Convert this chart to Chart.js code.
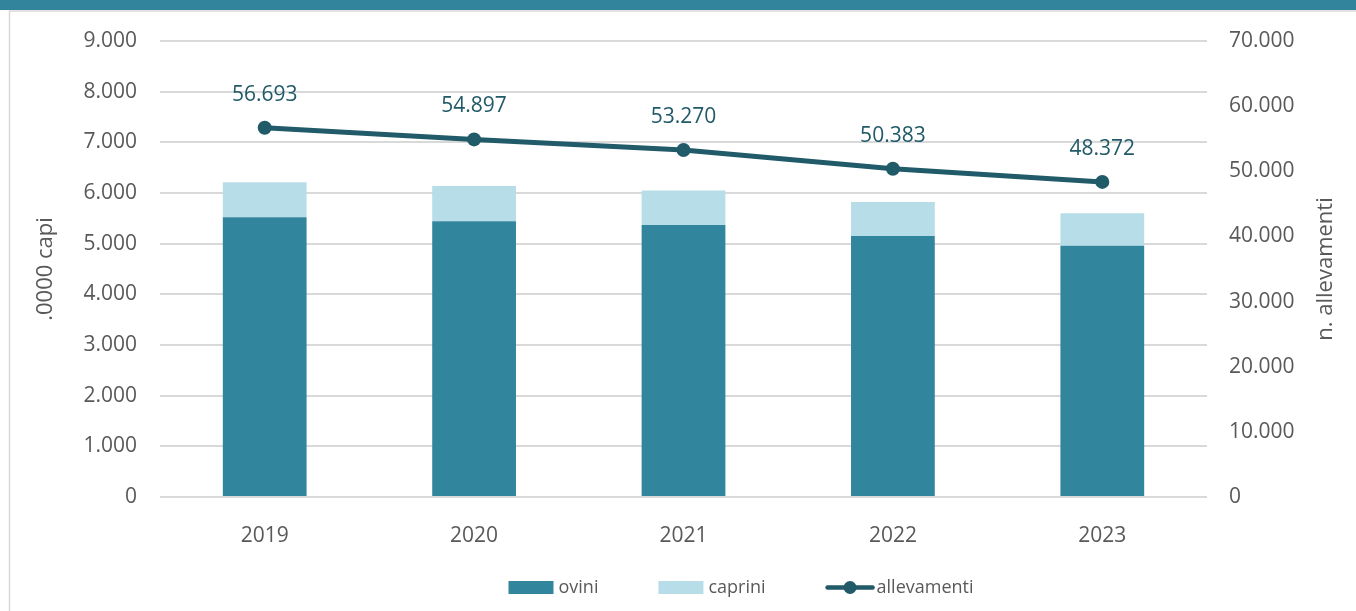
<!DOCTYPE html>
<html>
<head>
<meta charset="utf-8">
<script src="https://cdn.jsdelivr.net/npm/chart.js@4.4.1/dist/chart.umd.min.js"></script>
<style>
  html, body { margin: 0; padding: 0; background: #fff; }
  #wrap { position: relative; width: 1356px; height: 611px; }
</style>
</head>
<body>
<div id="wrap"><canvas id="chart"></canvas></div>
<script>
// Chart data
const years = ["2019", "2020", "2021", "2022", "2023"];
const ovini = [5520, 5440, 5370, 5150, 4960];
const caprini = [690, 700, 680, 670, 640];
const allevamenti = [56693, 54897, 53270, 50383, 48372];

const leftTitle = ".0000 capi";
const rightTitle = "n. allevamenti";

const FONT = "'Open Sans', sans-serif";
const GREY_TEXT = "#595959";
const LINE_COLOR = "#215a68";

// thousands separator with a dot
function fmt(v) {
  return String(Math.round(v)).replace(/\B(?=(\d{3})+(?!\d))/g, ".");
}

// Frame: teal band on top and thin grey border
const framePlugin = {
  id: "frame",
  beforeDraw(chart) {
    const ctx = chart.ctx;
    ctx.save();
    ctx.fillStyle = "#31849b";
    ctx.fillRect(0, 0, chart.width, 10);
    ctx.strokeStyle = "#d9d9d9";
    ctx.lineWidth = 1.5;
    ctx.beginPath();
    ctx.moveTo(9.5, chart.height);
    ctx.lineTo(9.5, 11);
    ctx.lineTo(chart.width, 11);
    ctx.stroke();
    ctx.restore();
  }
};

// Axis titles, both reading bottom to top
const titlesPlugin = {
  id: "titles",
  afterDraw(chart) {
    const ctx = chart.ctx;
    const area = chart.chartArea;
    const cy = (area.top + area.bottom) / 2;
    ctx.save();
    ctx.fillStyle = GREY_TEXT;
    ctx.font = "22px " + FONT;
    ctx.textAlign = "center";
    ctx.textBaseline = "middle";
    [[46, leftTitle], [1326, rightTitle]].forEach(([x, txt]) => {
      ctx.save();
      ctx.translate(x, cy);
      ctx.rotate(-Math.PI / 2);
      ctx.fillText(txt, 0, 0);
      ctx.restore();
    });
    ctx.restore();
  }
};

// Value labels above the line points
const labelsPlugin = {
  id: "lineLabels",
  afterDatasetsDraw(chart) {
    const ctx = chart.ctx;
    const meta = chart.getDatasetMeta(2);
    ctx.save();
    ctx.fillStyle = LINE_COLOR;
    ctx.font = "21px " + FONT;
    ctx.textAlign = "center";
    ctx.textBaseline = "middle";
    meta.data.forEach((pt, i) => {
      ctx.fillText(fmt(allevamenti[i]), pt.x, pt.y - 33);
    });
    ctx.restore();
  }
};

// Legend drawn by hand (bar boxes and line with marker)
const legendPlugin = {
  id: "customLegend",
  afterDraw(chart) {
    const ctx = chart.ctx;
    const ds = chart.data.datasets;
    const y = 587.5;
    ctx.save();
    ctx.font = "18px " + FONT;
    ctx.textBaseline = "middle";
    ctx.fillStyle = GREY_TEXT;
    const items = ds.map((d) => ({
      d: d,
      sym: d.type === "line" ? 49 : 45,
      gap: d.type === "line" ? 2 : 5,
      tw: ctx.measureText(d.label).width
    }));
    const spacing = 60;
    let total = 0;
    items.forEach((it, i) => { total += it.sym + it.gap + it.tw + (i ? spacing : 0); });
    let x = 741 - total / 2;
    items.forEach((it) => {
      if (it.d.type === "line") {
        ctx.strokeStyle = it.d.borderColor;
        ctx.lineWidth = 4.5;
        ctx.lineCap = "round";
        ctx.beginPath();
        ctx.moveTo(x + 2, y);
        ctx.lineTo(x + it.sym - 2, y);
        ctx.stroke();
        ctx.fillStyle = it.d.borderColor;
        ctx.beginPath();
        ctx.arc(x + it.sym / 2, y, 6.5, 0, Math.PI * 2);
        ctx.fill();
      } else {
        ctx.fillStyle = it.d.backgroundColor;
        ctx.fillRect(x, y - 6.5, it.sym, 13);
      }
      x += it.sym + it.gap;
      ctx.fillStyle = GREY_TEXT;
      ctx.textAlign = "left";
      ctx.fillText(it.d.label, x, y);
      x += it.tw + spacing;
    });
    ctx.restore();
  }
};

const ctx = document.getElementById("chart").getContext("2d");
new Chart(ctx, {
  data: {
    labels: years,
    datasets: [
      {
        type: "bar",
        label: "ovini",
        data: ovini,
        backgroundColor: "#31859c",
        yAxisID: "y",
        order: 1,
        barPercentage: 0.4,
        categoryPercentage: 1
      },
      {
        type: "bar",
        label: "caprini",
        data: caprini,
        backgroundColor: "#b7dde8",
        yAxisID: "y",
        order: 1,
        barPercentage: 0.4,
        categoryPercentage: 1
      },
      {
        type: "line",
        label: "allevamenti",
        data: allevamenti,
        borderColor: LINE_COLOR,
        backgroundColor: LINE_COLOR,
        borderWidth: 5,
        pointRadius: 7,
        pointBackgroundColor: LINE_COLOR,
        pointBorderWidth: 0,
        tension: 0,
        yAxisID: "y1",
        order: 0
      }
    ]
  },
  options: {
    responsive: true,
    maintainAspectRatio: false,
    animation: false,
    layout: { padding: { top: 41, left: 10, right: 0, bottom: 0 } },
    plugins: {
      legend: { display: false },
      tooltip: { enabled: false }
    },
    scales: {
      x: {
        stacked: true,
        grid: { display: false },
        border: { display: false },
        ticks: {
          color: GREY_TEXT,
          font: { family: FONT, size: 21 },
          padding: 18
        },
        afterFit(scale) { scale.height = 114; }
      },
      y: {
        stacked: true,
        position: "left",
        min: 0,
        max: 9000,
        grid: { color: "#d9d9d9", lineWidth: 2, drawTicks: false },
        border: { display: false },
        ticks: {
          stepSize: 1000,
          color: GREY_TEXT,
          font: { family: FONT, size: 21 },
          padding: 23,
          callback: (v) => fmt(v)
        },
        afterFit(scale) { scale.width = 150; }
      },
      y1: {
        position: "right",
        min: 0,
        max: 70000,
        grid: { display: false, drawTicks: false },
        border: { display: false },
        ticks: {
          stepSize: 10000,
          color: GREY_TEXT,
          font: { family: FONT, size: 21 },
          padding: 22,
          callback: (v) => fmt(v)
        },
        afterFit(scale) { scale.width = 149; }
      }
    }
  },
  plugins: [framePlugin, titlesPlugin, labelsPlugin, legendPlugin]
});
</script>
</body>
</html>
